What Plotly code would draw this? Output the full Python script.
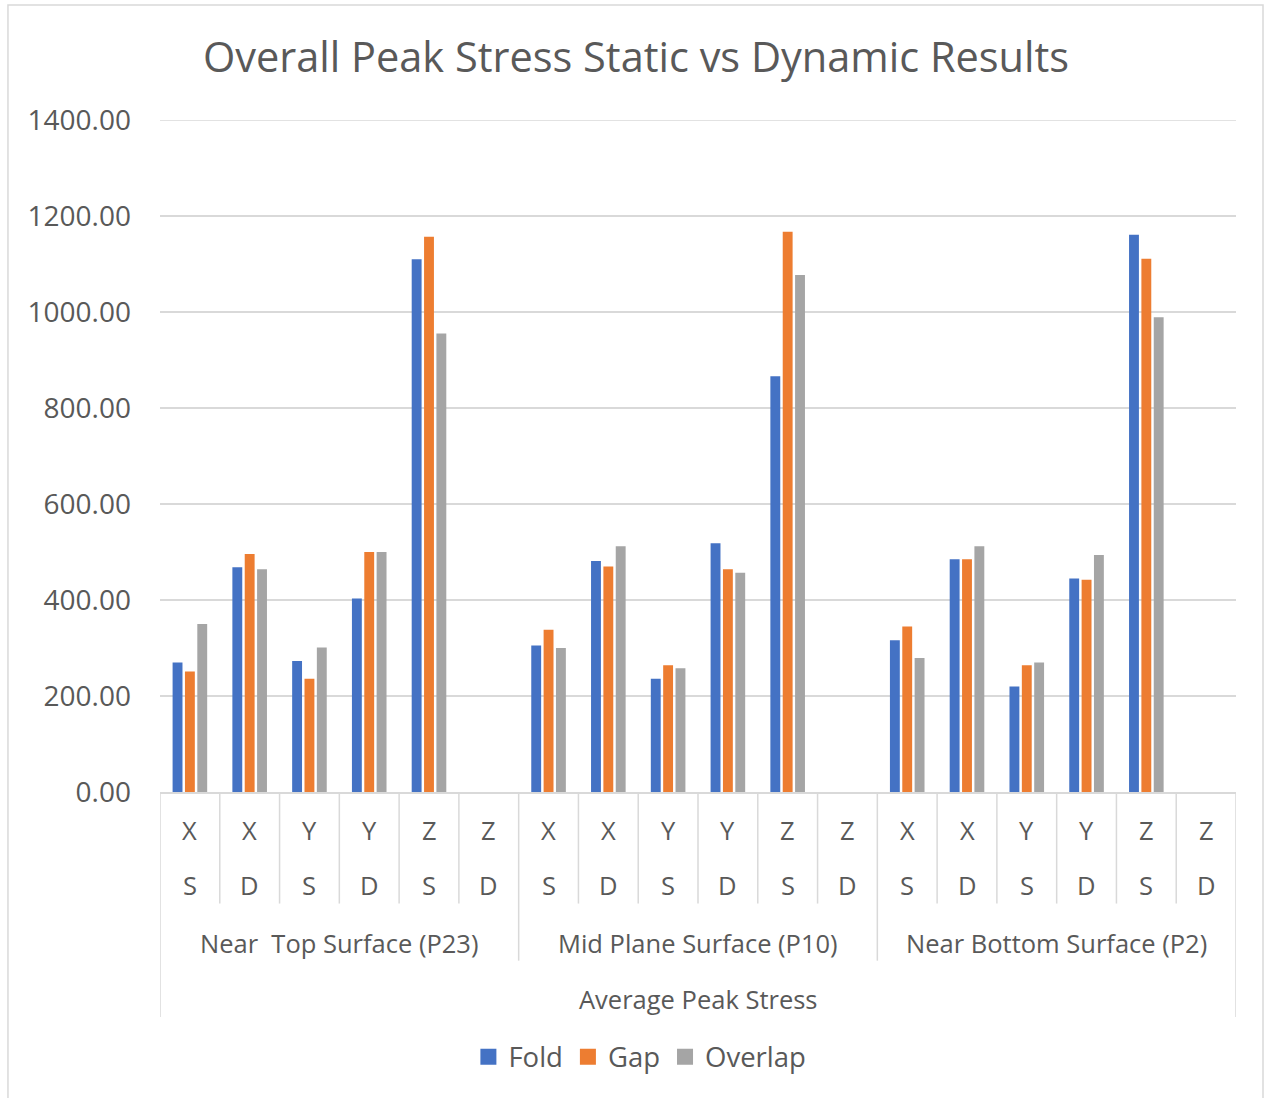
import plotly.graph_objects as go

# data
axis_labels = ["X", "X", "Y", "Y", "Z", "Z"] * 3
mode_labels = ["S", "D", "S", "D", "S", "D"] * 3
group_labels = ["Near  Top Surface (P23)", "Mid Plane Surface (P10)", "Near Bottom Surface (P2)"]
outer_label = "Average Peak Stress"

fold = [270, 468, 273, 403, 1110, None,
        305, 481, 236, 518, 866, None,
        316, 485, 220, 445, 1161, None]
gap = [251, 496, 236, 500, 1157, None,
       338, 470, 264, 464, 1167, None,
       345, 485, 264, 442, 1111, None]
overlap = [350, 464, 301, 500, 955, None,
           300, 512, 258, 457, 1077, None,
           279, 512, 270, 494, 989, None]

series = [("Fold", fold, "#4472C4"), ("Gap", gap, "#ED7D31"), ("Overlap", overlap, "#A5A5A5")]

TEXT = "#595959"
GRID = "#D9D9D9"
FONT = "Open Sans"
Y_MAX = 1400

n = len(axis_labels)
xs = list(range(n))

fig = go.Figure()
for name, vals, color in series:
    fig.add_trace(go.Bar(x=xs, y=vals, name=name, marker_color=color,
                         marker_line=dict(width=0), showlegend=False))
    # legend entry with a larger square symbol
    fig.add_trace(go.Scatter(x=[None], y=[None], mode="markers", name=name,
                             marker=dict(symbol="square", size=17, color=color)))

# category labels below the axis (4 levels)
lab_font = dict(size=25.5, color=TEXT)
for i in xs:
    fig.add_annotation(x=i, y=-0.057, xref="x", yref="paper", text=axis_labels[i],
                       showarrow=False, yanchor="middle", font=lab_font)
    fig.add_annotation(x=i, y=-0.139, xref="x", yref="paper", text=mode_labels[i],
                       showarrow=False, yanchor="middle", font=lab_font)

per_group = n // len(group_labels)
for g, label in enumerate(group_labels):
    fig.add_annotation(x=g * per_group + (per_group - 1) / 2, y=-0.224, xref="x", yref="paper",
                       text=label, showarrow=False, yanchor="middle", font=lab_font)
fig.add_annotation(x=(n - 1) / 2, y=-0.308, xref="x", yref="paper", text=outer_label,
                   showarrow=False, yanchor="middle", font=lab_font)

# divider lines
for k in range(n + 1):
    if k in (0, n):
        y1 = -0.335
    elif k % per_group == 0:
        y1 = -0.251
    else:
        y1 = -0.166
    fig.add_shape(type="line", xref="x", yref="paper", x0=k - 0.5, x1=k - 0.5, y0=0, y1=y1,
                  line=dict(color=GRID, width=1.5))

# top gridline (plotly drops the one on the range edge)
fig.add_shape(type="line", xref="paper", yref="y", x0=0, x1=1, y0=Y_MAX, y1=Y_MAX,
              line=dict(color=GRID, width=1.5), layer="below")

# chart border
fig.add_shape(type="rect", xref="paper", yref="paper", x0=-0.1413, x1=1.0251, y0=1.1711, y1=-0.46,
              line=dict(color=GRID, width=1.5), layer="below")

fig.update_layout(
    width=1266, height=1098,
    margin=dict(l=160, r=30, t=120, b=306),
    paper_bgcolor="white", plot_bgcolor="white",
    font=dict(family=FONT, color=TEXT),
    barmode="group", bargap=0.38, bargroupgap=0.2,
    title=dict(text="Overall Peak Stress Static vs Dynamic Results", x=0.5024, xref="container",
               xanchor="center", y=0.948, yref="container", yanchor="middle",
               font=dict(size=41.5, color=TEXT)),
    legend=dict(orientation="h", x=0.446, xanchor="center", y=-0.394, yanchor="middle",
                font=dict(size=27.5, color=TEXT), itemwidth=30, tracegroupgap=0),
)
fig.update_xaxes(range=[-0.5, n - 0.5], showticklabels=False, showgrid=False, zeroline=False,
                 showline=True, linecolor=GRID, linewidth=1.5, fixedrange=True)
fig.update_yaxes(range=[0, Y_MAX], dtick=200, tickformat=".2f", showgrid=True, gridcolor=GRID,
                 gridwidth=1.5, zeroline=False, showline=False, ticklabelstandoff=28,
                 tickfont=dict(size=28, color=TEXT))

fig.write_html("out.html", config={"displayModeBar": False},
               post_script="document.body.style.margin='0';")
